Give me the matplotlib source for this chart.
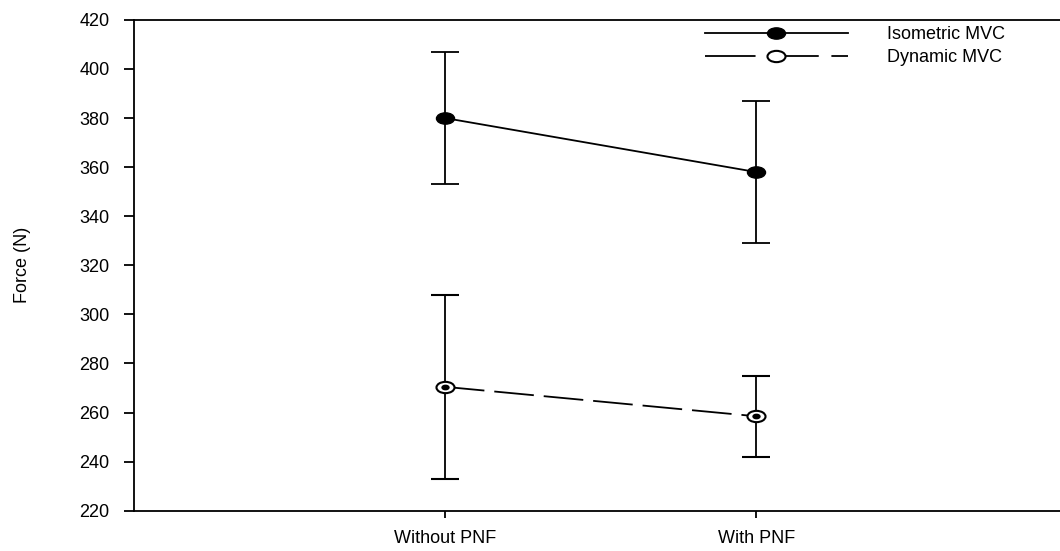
import numpy as np
import matplotlib
matplotlib.use("Agg")
import matplotlib.pyplot as plt
from matplotlib.lines import Line2D
from matplotlib.path import Path
from matplotlib.transforms import Affine2D

plt.rcParams['font.family'] = ['Liberation Sans', 'DejaVu Sans']

# Data
conditions = ["Without PNF", "With PNF"]
iso_mean = [380.0, 358.0]
iso_err = [27.0, 29.0]
dyn_mean = [270.5, 258.5]
dyn_err = [37.5, 16.5]

x = np.arange(1, len(conditions) + 1)
dash = (0, (22, 5.5))

# the source picture is stretched sideways, so markers are flat ellipses
ellipse = Path.unit_circle().transformed(Affine2D().scale(1.6, 1.0))
ms = 13

fig = plt.figure(figsize=(10.6, 5.51), dpi=100)
ax = fig.add_axes([0.126, 0.073, 0.881, 0.891])

# Isometric MVC: solid line, filled markers
ax.errorbar(x, iso_mean, yerr=iso_err, color='black', lw=1.3, ls='-',
            marker=ellipse, ms=ms, mfc='black', mec='black',
            capsize=10, capthick=1.3, elinewidth=1.3)

# Dynamic MVC: long-dash line, open marker with a dot
ax.errorbar(x, dyn_mean, yerr=dyn_err, color='black', lw=1.3, ls=dash,
            marker=ellipse, ms=ms, mfc='white', mec='black', mew=1.5,
            capsize=10, capthick=1.3, elinewidth=1.3)
ax.plot(x, dyn_mean, ls='none', marker=ellipse, ms=5, color='black', zorder=5)

ax.set_xlim(0, 3)
ax.set_ylim(220, 420)
ax.set_yticks(np.arange(220, 421, 20))
ax.set_xticks(x)
ax.set_xticklabels(conditions)

ax.spines['right'].set_visible(False)
for s in ['left', 'bottom', 'top']:
    ax.spines[s].set_linewidth(1.3)
ax.tick_params(axis='y', direction='out', length=7.2, width=1.3, labelsize=13, pad=10)
ax.tick_params(axis='x', direction='out', length=5, width=1.3, labelsize=13, pad=9)

ax.set_ylabel('Force (N)', fontsize=13)
ax.yaxis.set_label_coords(-0.11, 0.5)

# legend handles: line + marker only, no error bars
h_iso = Line2D([], [], color='black', lw=1.3, ls='-', marker=ellipse, ms=ms,
               mfc='black', mec='black')
h_dyn = Line2D([], [], color='black', lw=1.3, ls=(0, (28, 7)), marker=ellipse, ms=ms,
               mfc='white', mec='black', mew=1.5)
ax.legend([h_iso, h_dyn], ['Isometric MVC', 'Dynamic MVC'],
          loc='upper left', bbox_to_anchor=(705 / 1060, 1 - 26 / 551),
          bbox_transform=fig.transFigure, frameon=False,
          fontsize=13, handlelength=7.9, handletextpad=2.2, borderaxespad=0,
          borderpad=0, labelspacing=0.35)

fig.savefig('out.png', dpi=100)
